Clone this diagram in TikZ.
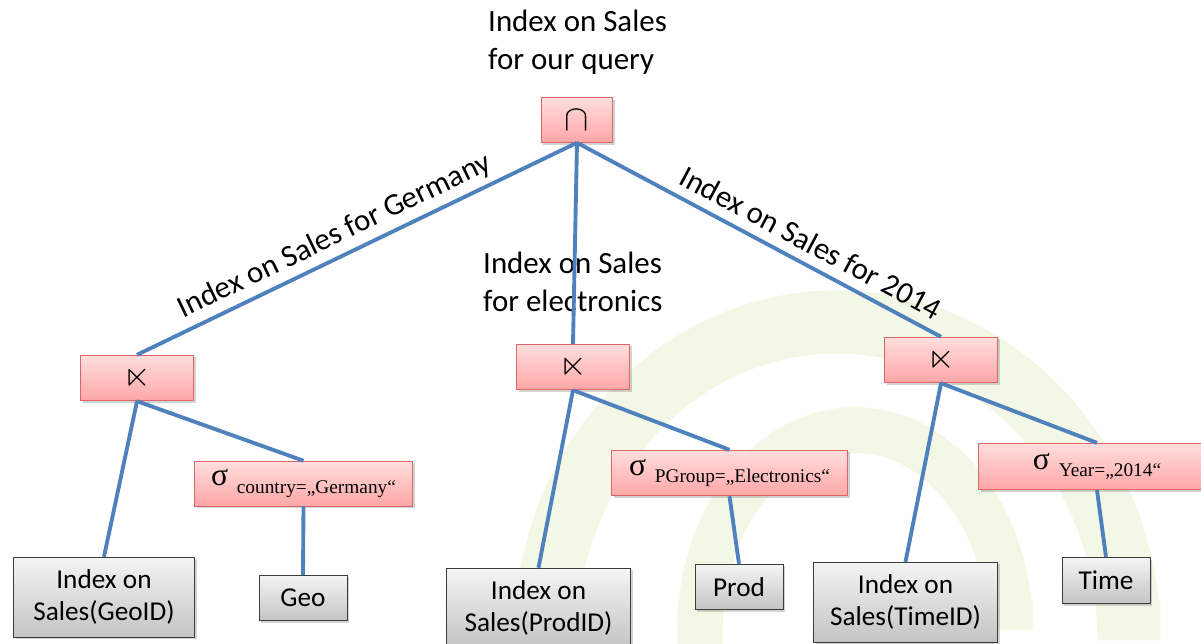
\documentclass[tikz,border=0pt]{standalone}
\usepackage{amssymb}
\usepackage{fontspec}
\setmainfont{Carlito}
\newfontfamily\serif{Liberation Serif}
\usetikzlibrary{shadows}
\definecolor{optop}{RGB}{255,222,222}
\definecolor{opbot}{RGB}{255,166,166}
\definecolor{opline}{RGB}{222,102,102}
\definecolor{leaftop}{RGB}{244,244,244}
\definecolor{leafbot}{RGB}{196,196,196}
\definecolor{leafline}{RGB}{60,60,60}
\definecolor{edgeblue}{RGB}{79,129,189}
\definecolor{wmark}{RGB}{243,247,230}
\tikzstyle{op}=[draw=opline, top color=optop, bottom color=opbot, inner sep=0pt,
  drop shadow={shadow xshift=1.3pt, shadow yshift=-1.3pt, opacity=0.35},
  font=\fontsize{20}{20}\selectfont]
\tikzstyle{leaf}=[draw=leafline, top color=leaftop, bottom color=leafbot, inner sep=0pt,
  align=center, drop shadow={shadow xshift=1.3pt, shadow yshift=-1.3pt, opacity=0.35},
  font=\fontsize{15.5}{18}\selectfont]
\tikzstyle{link}=[draw=edgeblue, line width=2.2pt]
\tikzstyle{lbl}=[font=\fontsize{17.6}{21.5}\selectfont]
\def\semi{$\ltimes$}
\def\sel#1{{\serif\fontsize{18}{18}\selectfont σ}\hspace{5pt}\raisebox{-4pt}{\serif\fontsize{11}{11}\selectfont #1}}

\begin{document}
\begin{tikzpicture}[x=0.02cm, y=-0.02cm]
  \useasboundingbox (0,0) rectangle (1201,644);
  % \draw[help lines, step=100] (0,0) grid (1201,644);
  \draw [wmark, line width=36pt] (545,660) -- (545,640) arc[start angle=180, end angle=360, x radius=292, y radius=318] -- (1129,600);
  \draw [wmark, line width=26pt] (700,660) -- (700,630) arc[start angle=180, end angle=360, x radius=155, y radius=200] -- (1010,600);

  \node [op, minimum width=40.8pt, minimum height=25.5pt] (cap) at (577,120) {$\cap$};
  \node [op, minimum width=64.6pt, minimum height=26pt] (jl) at (137,378) {\semi};
  \node [op, minimum width=64.6pt, minimum height=26pt] (jm) at (573,367) {\semi};
  \node [op, minimum width=64.6pt, minimum height=26pt] (jr) at (941,360) {\semi};
  \node [op, minimum width=124pt, minimum height=25.5pt, font=\normalsize] (sg) at (303.5,483.5) {\sel{country=„Germany“}};
  \node [op, minimum width=134pt, minimum height=26pt, font=\normalsize] (sp) at (729.5,473) {\sel{PGroup=„Electronics“}};
  \node [op, minimum width=135pt, minimum height=26.5pt, font=\normalsize] (sy) at (1097,466.5) {\sel{Year=„2014“}};
  \node [leaf, minimum width=103pt, minimum height=45.4pt] (gid) at (104,597) {Index on\\Sales(GeoID)};
  \node [leaf, minimum width=50pt, minimum height=26pt] (geo) at (303,598) {Geo};
  \node [leaf, minimum width=105pt, minimum height=45.4pt] (pid) at (538.5,608) {Index on\\Sales(ProdID)};
  \node [leaf, minimum width=50pt, minimum height=26pt] (prod) at (739,587) {Prod};
  \node [leaf, minimum width=105pt, minimum height=45.4pt] (tid) at (905.5,602) {Index on\\Sales(TimeID)};
  \node [leaf, minimum width=50pt, minimum height=26.5pt] (time) at (1106,580.5) {Time};

  \node [lbl, align=left, anchor=west] (query) at (482,42) {Index on Sales\\for our query};
  \node [lbl, align=left, anchor=west] (elec) at (477,282) {Index on Sales\\for electronics};

  \path [link] (cap.south) edge node [lbl, sloped, above, pos=0.53] {Index on Sales for Germany} (jl.north)
                           edge (jm.north)
                           edge node [lbl, sloped, above=2pt, pos=0.615] {Index on Sales for 2014} (jr.north)
               (jl.south) edge (gid.north)
                          edge (sg.north)
               (sg.south) edge (geo.north)
               (jm.south) edge (pid.north)
                          edge (sp.north)
               (sp.south) edge (prod.north)
               (jr.south) edge (tid.north)
                          edge (sy.north)
               (sy.south) edge (time.north);
\end{tikzpicture}
\end{document}
